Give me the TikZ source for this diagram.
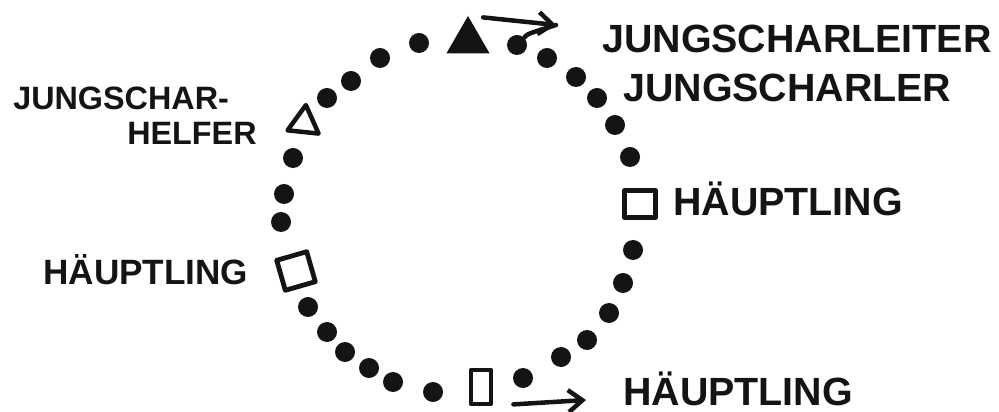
\documentclass[tikz,border=0pt]{standalone}
\usepackage{fontspec}
\setsansfont{Liberation Sans}
\usepackage{tikz}
\usetikzlibrary{arrows.meta,shapes.geometric}
\definecolor{jsInk}{HTML}{141414}
\tikzset{
  js diagram/.style={font=\sffamily\bfseries, text=jsInk,
    line cap=round, line join=round},
  js dot/.style={circle, fill=jsInk, inner sep=0pt, minimum size=0.5cm},
  js chief/.style={draw=jsInk, line width=3.4pt, inner sep=0pt,
    minimum size=0.78cm},
  js leader/.style={regular polygon, regular polygon sides=3, fill=jsInk,
    inner sep=0pt, minimum size=1.25cm},
  js helper/.style={regular polygon, regular polygon sides=3, draw=jsInk,
    line width=3.2pt, inner sep=0pt, minimum size=0.9cm},
  js line/.style={draw=jsInk, line width=3.2pt},
  js arrow/.style={js line, -{Straight Barb[length=3.5mm,width=5.5mm]}},
  js label/.style={font=\sffamily\bfseries\fontsize{28}{30}\selectfont,
    inner sep=0pt, anchor=base west},
  js small label/.style={js label, font=\sffamily\bfseries\fontsize{23}{25}\selectfont}
}

\begin{document}
\begin{tikzpicture}[js diagram,x=0.025cm,y=-0.025cm]
\useasboundingbox (0,0) rectangle (999,412);
\foreach \p [count=\i] in {(419,43),(380,58),(351,81),(327,98),(293,158),
  (284,194),(281,222),(308,307),(327,332),(345,352),(369,368),(393,382),
  (433,392),(523,378),(561,357),(587,340),(609,313),(623,283),(633,250),
  (630,157),(615,125),(597,98),(576,77),(547,58),(517,45)}
  \node[js dot] (d\i) at \p {};
\node[js leader] (leader) at (468,41) {};
\node[js helper,rotate=-6] (helper) at (304,123) {};
\node[js chief,rotate=16] (chief left) at (296,271) {};
\node[js chief,minimum height=0.68cm] (chief right) at (640,204) {};
\node[js chief,minimum width=0.5cm,minimum height=0.85cm] (chief bottom) at (481,387) {};
\coordinate (leader tip) at (556,25);
\coordinate (bottom tip) at (586,400);
\draw[js arrow] ([xshift=0.38cm,yshift=-0.05cm]leader.corner 1) -- (leader tip);
\draw[js line] (leader tip) .. controls (527,34) .. (d25.north east);
\draw[js arrow] ([xshift=0.5cm,yshift=0.05cm]chief bottom.south east) -- (bottom tip);
\node[js label] (leader text) at (602,53) {JUNGSCHARLEITER};
\node[js label] (member text) at (623,102) {JUNGSCHARLER};
\node[js small label] (helper text) at (13,110) {JUNGSCHAR-};
\node[js small label] (helper text b) at (127,145) {HELFER};
\node[js label,font=\sffamily\bfseries\fontsize{25}{27}\selectfont] (chief left text) at (43,284) {HÄUPTLING};
\node[js label] (chief right text) at (673,216) {HÄUPTLING};
\node[js label] (chief bottom text) at (623,405) {HÄUPTLING};
\end{tikzpicture}
\end{document}
